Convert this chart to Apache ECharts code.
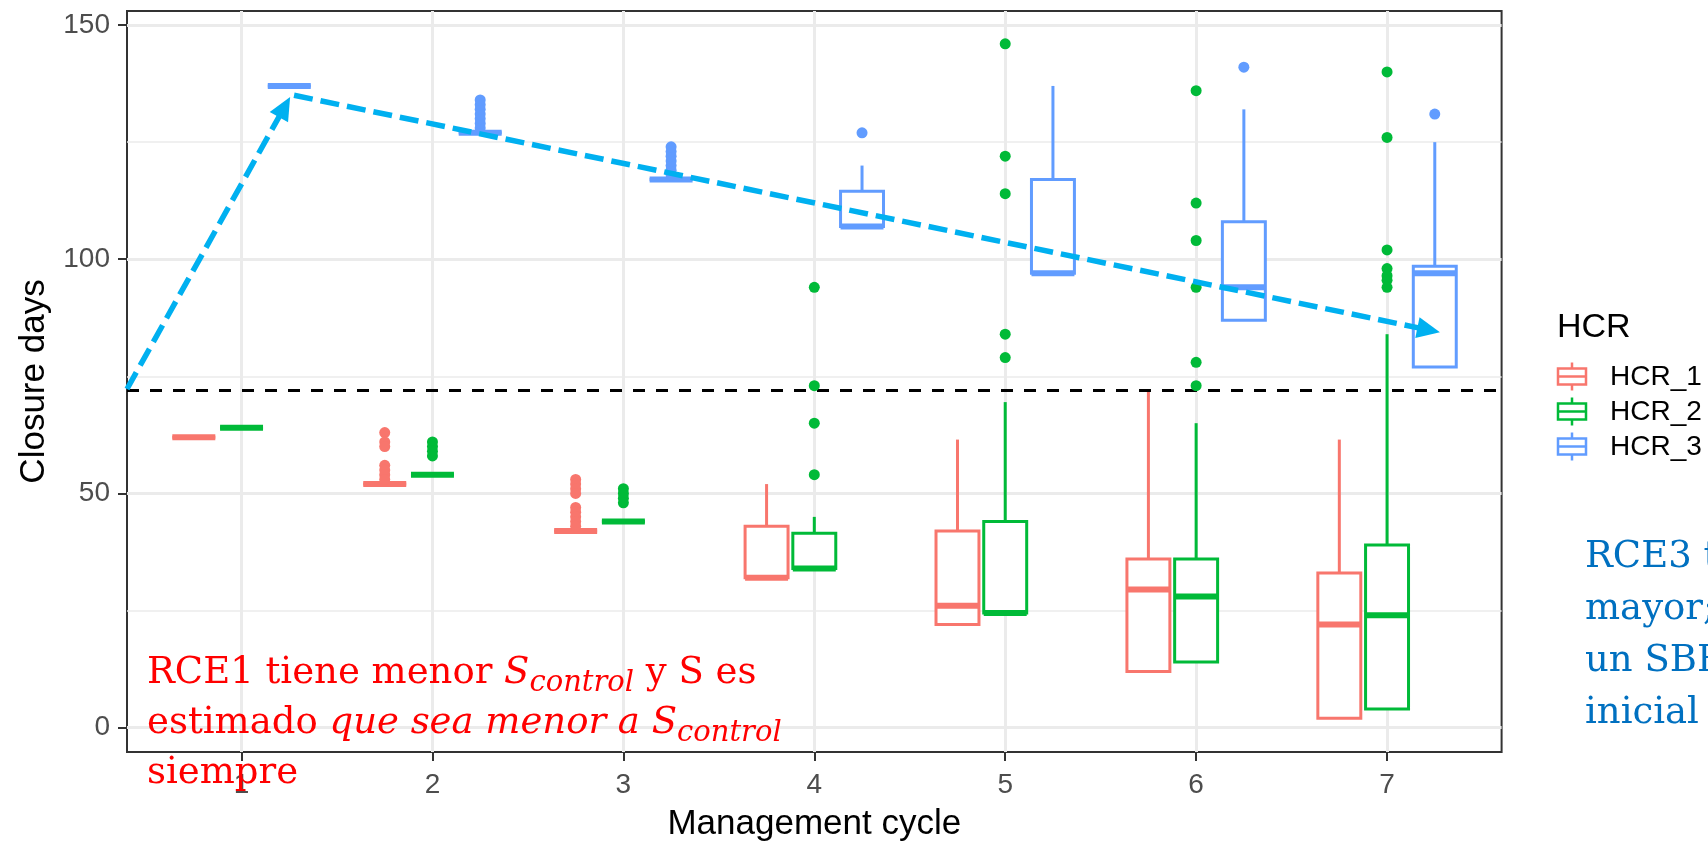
<!DOCTYPE html>
<html>
<head>
<meta charset="utf-8">
<title>Closure days by management cycle</title>
<script src="https://cdn.jsdelivr.net/npm/echarts@6/dist/echarts.min.js"></script>
<style>
  html, body { margin: 0; padding: 0; background: #ffffff; }
  #chart { width: 1708px; height: 847px; }
</style>
</head>
<body>
<div id="chart"></div>
<script>
// ---- data -------------------------------------------------------------
const cycles = [1, 2, 3, 4, 5, 6, 7];
const hcrNames = ['HCR_1', 'HCR_2', 'HCR_3'];
const hcrColors = ['#F8766D', '#00BA38', '#619CFF'];

// box statistics per cycle: [lower whisker, Q1, median, Q3, upper whisker]
const hcr1Stats = [
  [62, 62, 62, 62, 62],
  [52, 52, 52, 52, 52],
  [42, 42, 42, 42, 42],
  [32, 32, 32, 43, 52],
  [22, 22, 26, 42, 61.5],
  [12, 12, 29.5, 36, 72],
  [2, 2, 22, 33, 61.5]
];
const hcr2Stats = [
  [64, 64, 64, 64, 64],
  [54, 54, 54, 54, 54],
  [44, 44, 44, 44, 44],
  [34, 34, 34, 41.5, 45],
  [24.5, 24.5, 24.5, 44, 69.5],
  [14, 14, 28, 36, 65],
  [4, 4, 24, 39, 84]
];
const hcr3Stats = [
  [137, 137, 137, 137, 137],
  [127, 127, 127, 127, 127],
  [117, 117, 117, 117, 117],
  [107, 107, 107, 114.5, 120],
  [97, 97, 97, 117, 137],
  [87, 87, 94, 108, 132],
  [77, 77, 97, 98.5, 125]
];

// outlying runs: [cycle, closure days]
const hcr1Outliers = [
  [2, 63], [2, 61], [2, 60], [2, 56], [2, 55], [2, 54], [2, 53],
  [3, 53], [3, 52], [3, 51], [3, 50], [3, 47], [3, 46], [3, 45], [3, 44], [3, 43]
];
const hcr2Outliers = [
  [2, 61], [2, 60], [2, 59], [2, 58],
  [3, 51], [3, 50], [3, 49], [3, 48],
  [4, 94], [4, 73], [4, 65], [4, 54],
  [5, 146], [5, 122], [5, 114], [5, 84], [5, 79],
  [6, 136], [6, 112], [6, 104], [6, 94], [6, 78], [6, 73],
  [7, 140], [7, 126], [7, 102], [7, 98], [7, 96.5], [7, 95.5], [7, 94]
];
const hcr3Outliers = [
  [2, 128], [2, 129], [2, 130], [2, 131], [2, 132], [2, 133], [2, 134],
  [3, 118], [3, 119], [3, 120], [3, 121], [3, 122], [3, 123], [3, 124],
  [4, 127], [6, 141], [7, 131]
];

const yTicks = [0, 50, 100, 150];
const yMinorGrid = [25, 75, 125];
const closureReference = 72;

// annotation arrows, [start, end] in (cycle, days)
const trendArrows = [
  [[0.4, 72.3], [1.225, 132.5]],
  [[1.275, 135], [7.218, 84.9]]
];
const calloutArrows = [
  [[6.77, 155.3], [5.094, 118.9]],
  [[7.187, 155.3], [6.114, 111]],
  [[7.456, 155.3], [7.031, 116.2]]
];

// ---- chart ------------------------------------------------------------
const statsByHcr = [hcr1Stats, hcr2Stats, hcr3Stats];
const outliersByHcr = [hcr1Outliers, hcr2Outliers, hcr3Outliers];
const DODGE = [-0.25, 0, 0.25];
const BOX_WIDTH = 0.225;
const SANS = '"Liberation Sans", Arial, sans-serif';
const SERIF = '"DejaVu Serif", serif';

function boxRenderer(color, offset) {
  return function (params, api) {
    const x = api.value(0) + offset;
    const lo = api.value(1), q1 = api.value(2), med = api.value(3), q3 = api.value(4), hi = api.value(5);
    const half = api.size([BOX_WIDTH, 0])[0] / 2;
    const pLo = api.coord([x, lo]);
    const pQ1 = api.coord([x, q1]);
    const pMed = api.coord([x, med]);
    const pQ3 = api.coord([x, q3]);
    const pHi = api.coord([x, hi]);
    const children = [];
    if (hi > q3) {
      children.push({ type: 'line', shape: { x1: pQ3[0], y1: pQ3[1], x2: pHi[0], y2: pHi[1] },
        style: { stroke: color, lineWidth: 3 } });
    }
    if (lo < q1) {
      children.push({ type: 'line', shape: { x1: pQ1[0], y1: pQ1[1], x2: pLo[0], y2: pLo[1] },
        style: { stroke: color, lineWidth: 3 } });
    }
    children.push({ type: 'rect',
      shape: { x: pQ1[0] - half, y: pQ3[1], width: half * 2, height: pQ1[1] - pQ3[1] },
      style: { stroke: color, lineWidth: 3, fill: '#ffffff' } });
    children.push({ type: 'line',
      shape: { x1: pMed[0] - half, y1: pMed[1], x2: pMed[0] + half, y2: pMed[1] },
      style: { stroke: color, lineWidth: 6 } });
    return { type: 'group', children: children };
  };
}

const series = [];

// panel grid lines (kept beneath the boxes)
series.push({
  type: 'line', data: [], silent: true, z: 0,
  markLine: {
    z: 0, silent: true, symbol: 'none', animation: false, label: { show: false },
    emphasis: { disabled: true },
    data: [].concat(
      cycles.map(c => ({ xAxis: c, lineStyle: { color: '#EBEBEB', width: 3, type: 'solid' } })),
      yTicks.map(v => ({ yAxis: v, lineStyle: { color: '#EBEBEB', width: 3, type: 'solid' } })),
      yMinorGrid.map(v => ({ yAxis: v, lineStyle: { color: '#EBEBEB', width: 1.5, type: 'solid' } }))
    )
  }
});

hcrNames.forEach((name, k) => {
  series.push({
    name: name,
    type: 'custom',
    z: 2,
    renderItem: boxRenderer(hcrColors[k], DODGE[k]),
    encode: { x: 0, y: [1, 2, 3, 4, 5] },
    data: statsByHcr[k].map((s, i) => [cycles[i]].concat(s))
  });
  series.push({
    name: name,
    type: 'scatter',
    z: 4,
    symbol: 'circle',
    symbolSize: 11,
    itemStyle: { color: hcrColors[k], opacity: 1 },
    data: outliersByHcr[k].map(([c, v]) => [c + DODGE[k], v])
  });
});

// reference level
series.push({
  type: 'line', data: [], silent: true, z: 3,
  markLine: {
    z: 3, silent: true, symbol: 'none', animation: false, label: { show: false },
    emphasis: { disabled: true },
    data: [{ yAxis: closureReference, lineStyle: { color: '#000000', width: 3, type: [12, 11] } }]
  }
});

// annotation arrows
function arrowPairs(list, style, headSize) {
  return list.map(([a, b]) => [
    { coord: a, symbol: 'none', lineStyle: style },
    { coord: b, symbol: 'triangle', symbolSize: headSize, lineStyle: style }
  ]);
}
series.push({
  type: 'line', data: [], silent: true, z: 20, clip: false,
  markLine: {
    z: 20, silent: true, animation: false, label: { show: false },
    emphasis: { disabled: true },
    itemStyle: { color: '#00B0F0' },
    data: arrowPairs(trendArrows, { color: '#00B0F0', width: 5.5, type: [19, 8], curveness: 0 }, [21, 23])
  }
});
series.push({
  type: 'line', data: [], silent: true, z: 21, clip: false,
  markLine: {
    z: 21, silent: true, animation: false, label: { show: false },
    emphasis: { disabled: true },
    itemStyle: { color: '#00B050' },
    data: arrowPairs(calloutArrows, { color: '#00B050', width: 1.5, type: 'solid', curveness: 0 }, [12, 15])
  }
});

// text notes
const leftNote = [
  '{n|RCE1 tiene menor }{i|S}{sub|control}{n| y S es}',
  '{n|estimado }{i|que sea menor a S}{sub|control}',
  '{n|siempre}'
];
const rightNote = ['RCE3 tiene', 'mayor;', 'un SBR', 'inicial'];

function noteRich(color) {
  return {
    n: { fontFamily: SERIF, fontSize: 37, fill: color, lineHeight: 42 },
    i: { fontFamily: SERIF, fontSize: 37, fontStyle: 'italic', fill: color, lineHeight: 42 },
    sub: { fontFamily: SERIF, fontSize: 29, fontStyle: 'italic', fill: color, lineHeight: 20, padding: [20, 0, 0, 0] }
  };
}

const graphics = [];
leftNote.forEach((line, i) => {
  graphics.push({
    type: 'text', z: 100, silent: true,
    x: 147, y: 673 + i * 50,
    style: { text: line, rich: noteRich('#FF0000'), verticalAlign: 'middle', align: 'left' }
  });
});
rightNote.forEach((line, i) => {
  graphics.push({
    type: 'text', z: 100, silent: true,
    x: 1585, y: 557 + i * 52,
    style: { text: line, font: '37px ' + SERIF, fill: '#0070C0', verticalAlign: 'middle', align: 'left' }
  });
});

// legend
graphics.push({
  type: 'text', silent: true, x: 1557, y: 328,
  style: { text: 'HCR', font: '34px ' + SANS, fill: '#000000', verticalAlign: 'middle', align: 'left' }
});
hcrNames.forEach((name, k) => {
  const cy = 376.5 + 35 * k;
  const c = hcrColors[k];
  graphics.push({ type: 'line', silent: true, shape: { x1: 1572, y1: cy - 14, x2: 1572, y2: cy + 14 },
    style: { stroke: c, lineWidth: 2.5 } });
  graphics.push({ type: 'rect', silent: true, shape: { x: 1558, y: cy - 8, width: 28, height: 16 },
    style: { stroke: c, lineWidth: 2.5, fill: '#ffffff' } });
  graphics.push({ type: 'line', silent: true, shape: { x1: 1558, y1: cy, x2: 1586, y2: cy },
    style: { stroke: c, lineWidth: 2.5 } });
  graphics.push({ type: 'text', silent: true, x: 1610, y: cy + 1,
    style: { text: name, font: '28px ' + SANS, fill: '#000000', verticalAlign: 'middle', align: 'left' } });
});

const chart = echarts.init(document.getElementById('chart'), null, { renderer: 'canvas' });
chart.setOption({
  animation: false,
  backgroundColor: '#ffffff',
  grid: {
    left: 127, top: 11, right: 206.4, bottom: 89.3,
    show: true, borderColor: '#333333', borderWidth: 2, backgroundColor: 'transparent'
  },
  xAxis: {
    type: 'value', min: 0.4, max: 7.6,
    name: 'Management cycle', nameLocation: 'middle', nameGap: 55,
    nameTextStyle: { fontFamily: SANS, fontSize: 35, color: '#000000' },
    axisLine: { show: false, onZero: false },
    axisTick: { show: true, length: 9, customValues: cycles, lineStyle: { color: '#333333', width: 2 } },
    axisLabel: { customValues: cycles, margin: 19, fontFamily: SANS, fontSize: 28, color: '#4D4D4D',
      formatter: v => String(v) },
    splitLine: { show: false }
  },
  yAxis: {
    type: 'value', min: -5.2, max: 153,
    name: 'Closure days', nameLocation: 'middle', nameGap: 75,
    nameTextStyle: { fontFamily: SANS, fontSize: 35, color: '#000000' },
    axisLine: { show: false, onZero: false },
    axisTick: { show: true, length: 9, customValues: yTicks, lineStyle: { color: '#333333', width: 2 } },
    axisLabel: { customValues: yTicks, margin: 17, fontFamily: SANS, fontSize: 28, color: '#4D4D4D',
      formatter: v => String(v) },
    splitLine: { show: false }
  },
  series: series,
  graphic: graphics
});
</script>
</body>
</html>
